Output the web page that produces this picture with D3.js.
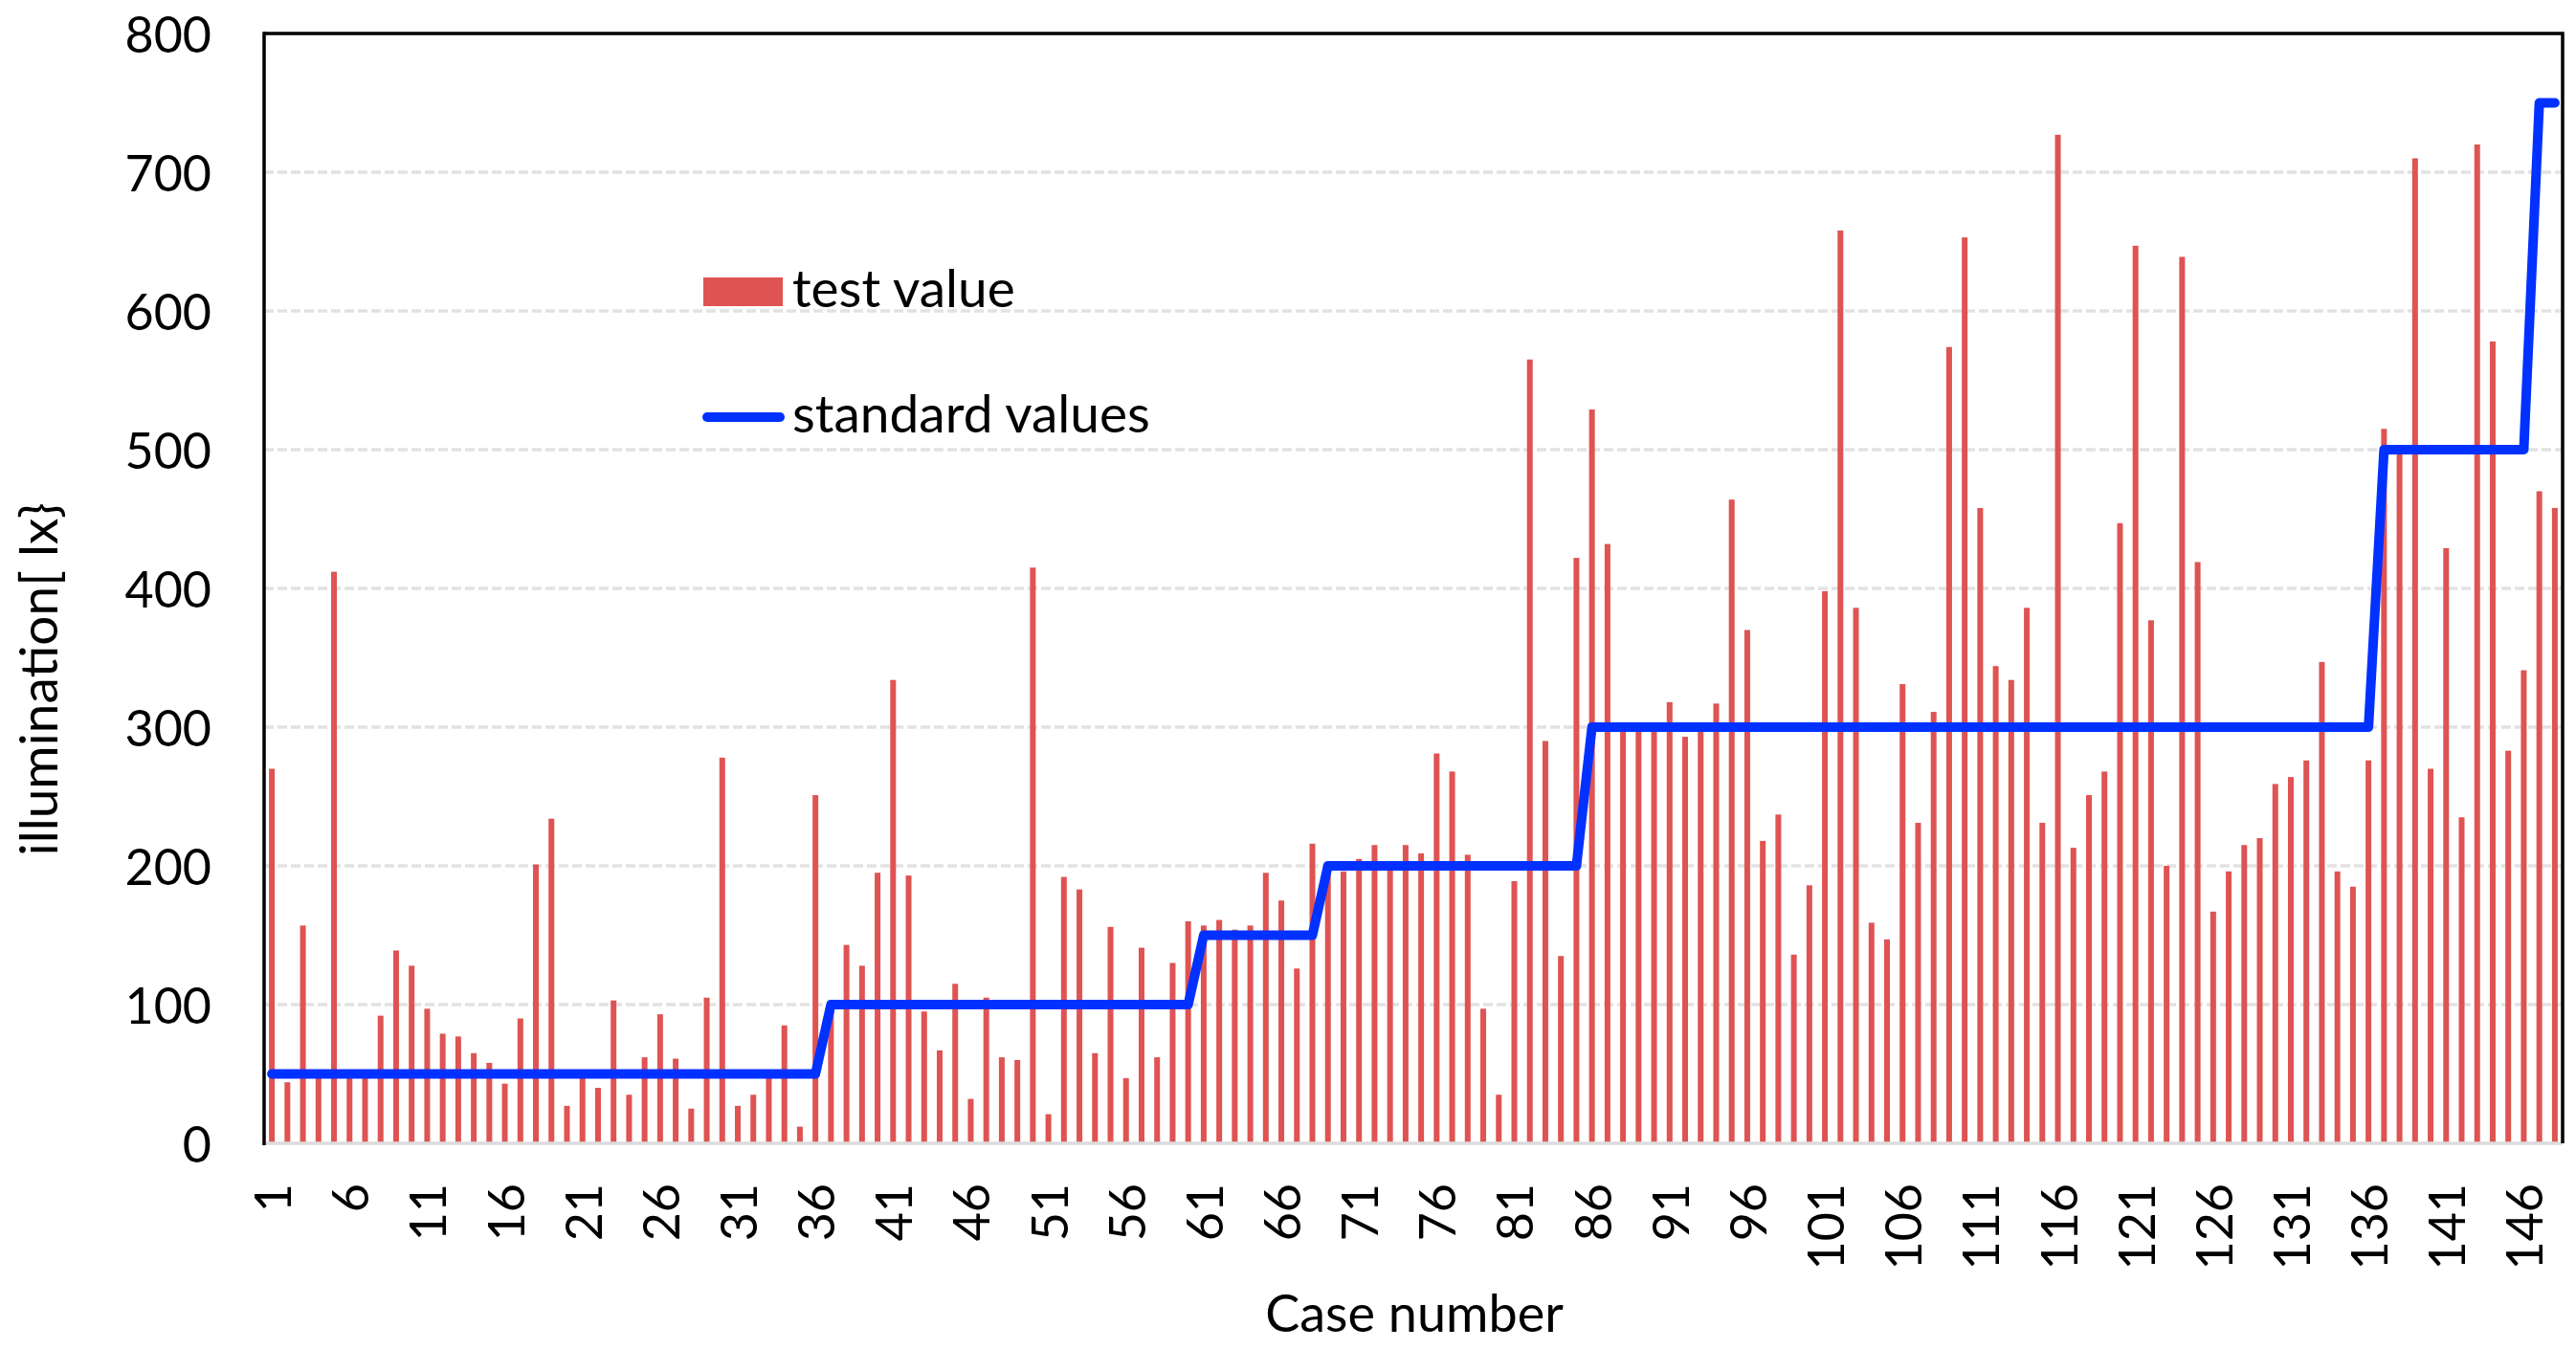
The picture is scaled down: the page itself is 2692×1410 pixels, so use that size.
<!DOCTYPE html>
<html>
<head>
<meta charset="utf-8">
<script src="https://cdn.jsdelivr.net/npm/d3@7"></script>
<style>
  html, body { margin: 0; padding: 0; background: #ffffff; }
  svg { display: block; }
  text { font-family: Lato, "Noto Sans", sans-serif; fill: #000; }
</style>
</head>
<body>
<svg id="chart" width="2692" height="1410"></svg>
<script>
// ---------------- DATA ----------------
const testValues = [
  270, 44, 157, 50, 412, 48, 49, 92, 139, 128,
  97, 79, 77, 65, 58, 43, 90, 201, 234, 27,
  48, 40, 103, 35, 62, 93, 61, 25, 105, 278,
  27, 35, 48, 85, 12, 251, 103, 143, 128, 195,
  334, 193, 95, 67, 115, 32, 105, 62, 60, 415,
  21, 192, 183, 65, 156, 47, 141, 62, 130, 160,
  157, 161, 154, 157, 195, 175, 126, 216, 198, 196,
  205, 215, 198, 215, 209, 281, 268, 208, 97, 35,
  189, 565, 290, 135, 422, 529, 432, 298, 298, 298,
  318, 293, 298, 317, 464, 370, 218, 237, 136, 186,
  398, 658, 386, 159, 147, 331, 231, 311, 574, 653,
  458, 344, 334, 386, 231, 727, 213, 251, 268, 447,
  647, 377, 200, 639, 419, 167, 196, 215, 220, 259,
  264, 276, 347, 196, 185, 276, 515, 498, 710, 270,
  429, 235, 720, 578, 283, 341, 470, 458
];
const standardValues = [
  50, 50, 50, 50, 50, 50, 50, 50, 50, 50,
  50, 50, 50, 50, 50, 50, 50, 50, 50, 50,
  50, 50, 50, 50, 50, 50, 50, 50, 50, 50,
  50, 50, 50, 50, 50, 50, 100, 100, 100, 100,
  100, 100, 100, 100, 100, 100, 100, 100, 100, 100,
  100, 100, 100, 100, 100, 100, 100, 100, 100, 100,
  150, 150, 150, 150, 150, 150, 150, 150, 200, 200,
  200, 200, 200, 200, 200, 200, 200, 200, 200, 200,
  200, 200, 200, 200, 200, 300, 300, 300, 300, 300,
  300, 300, 300, 300, 300, 300, 300, 300, 300, 300,
  300, 300, 300, 300, 300, 300, 300, 300, 300, 300,
  300, 300, 300, 300, 300, 300, 300, 300, 300, 300,
  300, 300, 300, 300, 300, 300, 300, 300, 300, 300,
  300, 300, 300, 300, 300, 300, 500, 500, 500, 500,
  500, 500, 500, 500, 500, 500, 750, 750
];
const cases = testValues.map((d, i) => i + 1);
const xTickLabels = [1, 6, 11, 16, 21, 26, 31, 36, 41, 46, 51, 56, 61, 66, 71, 76, 81, 86, 91, 96, 101, 106, 111, 116, 121, 126, 131, 136, 141, 146];
const yTicks = [0, 100, 200, 300, 400, 500, 600, 700, 800];
const seriesNames = ["test value", "standard values"];

// ---------------- LAYOUT ----------------
const W = 2692, H = 1410;
const plot = { left: 276, right: 2678, top: 35, bottom: 1195 };
const RED = "#DF5353", BLUE = "#0031FF";

const svg = d3.select("#chart");

const x = d3.scaleBand()
  .domain(cases)
  .range([plot.left, plot.right])
  .paddingInner(0.63)
  .paddingOuter(0.315);
const y = d3.scaleLinear().domain([0, 800]).range([plot.bottom, plot.top]);
const bw = x.bandwidth();

// gridlines
svg.append("g")
  .selectAll("line")
  .data(yTicks.filter(v => v > 0 && v < 800))
  .join("line")
  .attr("x1", plot.left).attr("x2", plot.right)
  .attr("y1", d => y(d)).attr("y2", d => y(d))
  .attr("stroke", "#e2e2e2")
  .attr("stroke-width", 3.5)
  .attr("stroke-dasharray", "10,4");

// bars
svg.append("g")
  .selectAll("rect")
  .data(cases)
  .join("rect")
  .attr("x", d => x(d))
  .attr("width", bw)
  .attr("y", d => y(testValues[d - 1]))
  .attr("height", d => y(0) - y(testValues[d - 1]))
  .attr("fill", RED);

// bottom axis line (light gray)
svg.append("line")
  .attr("x1", plot.left).attr("x2", plot.right)
  .attr("y1", plot.bottom).attr("y2", plot.bottom)
  .attr("stroke", "#dcdcdc").attr("stroke-width", 3.5);

// top & right border
svg.append("path")
  .attr("d", `M${plot.left},${plot.top}H${plot.right}V${plot.bottom}`)
  .attr("fill", "none").attr("stroke", "#000").attr("stroke-width", 3.5);

// left axis
svg.append("line")
  .attr("x1", plot.left).attr("x2", plot.left)
  .attr("y1", plot.top - 1.75).attr("y2", plot.bottom + 2)
  .attr("stroke", "#000").attr("stroke-width", 3.5);

// standard values line
const line = d3.line()
  .x((d, i) => x(cases[i]) + bw / 2)
  .y(d => y(d));
svg.append("path")
  .attr("d", line(standardValues))
  .attr("fill", "none")
  .attr("stroke", BLUE)
  .attr("stroke-width", 10)
  .attr("stroke-linejoin", "round")
  .attr("stroke-linecap", "round");

// y tick labels
svg.append("g")
  .selectAll("text")
  .data(yTicks)
  .join("text")
  .attr("x", 221)
  .attr("y", d => y(d))
  .attr("text-anchor", "end")
  .attr("dominant-baseline", "central")
  .attr("font-size", 52)
  .text(d => d);

// x tick labels (rotated)
svg.append("g")
  .selectAll("text")
  .data(xTickLabels)
  .join("text")
  .attr("transform", d => `translate(${x(d) + bw / 2},1237) rotate(-90)`)
  .attr("text-anchor", "end")
  .attr("dominant-baseline", "central")
  .attr("font-size", 52)
  .text(d => d);

// axis titles
svg.append("text")
  .attr("transform", "translate(60,710) rotate(-90)")
  .attr("text-anchor", "middle")
  .attr("font-size", 55)
  .text("illumination[ lx}");

svg.append("text")
  .attr("x", 1478).attr("y", 1392)
  .attr("text-anchor", "middle")
  .attr("font-size", 54)
  .text("Case number");

// legend
const lg = svg.append("g");
lg.append("rect")
  .attr("x", 735).attr("y", 290).attr("width", 83).attr("height", 30)
  .attr("fill", RED);
lg.append("text")
  .attr("x", 828).attr("y", 321)
  .attr("font-size", 55)
  .text(seriesNames[0]);
lg.append("line")
  .attr("x1", 739).attr("x2", 815).attr("y1", 436).attr("y2", 436)
  .attr("stroke", BLUE).attr("stroke-width", 10).attr("stroke-linecap", "round");
lg.append("text")
  .attr("x", 828).attr("y", 452)
  .attr("font-size", 55)
  .text(seriesNames[1]);
</script>
</body>
</html>
